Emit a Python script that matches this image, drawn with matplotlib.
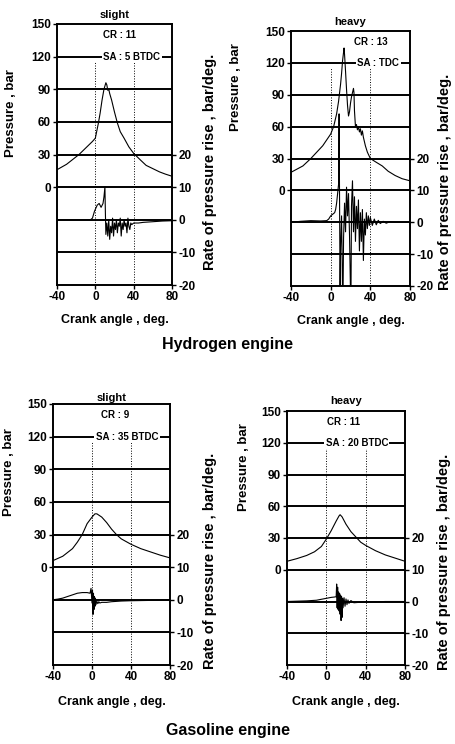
import numpy as np
import matplotlib.pyplot as plt

plt.rcParams['font.family'] = ['Liberation Sans', 'DejaVu Sans']
plt.rcParams['axes.unicode_minus'] = False

# hydrogen engine, slight knock (CR 11, SA 5 BTDC)
h_slight_px = [-40, -30, -17, -10, -3, 0, 3, 5, 7, 9, 11, 12, 13, 14, 15, 17, 20, 23, 26, 30, 35, 40, 47, 53, 60, 67, 73, 80]
h_slight_p = [16, 21, 30, 36, 42, 45, 58, 68, 80, 90, 96, 94, 89, 90, 86, 80, 69, 59, 51, 45, 37, 31, 25, 20, 17, 14, 12, 10]
h_slight_rx = [-40, -20, -5, -3, -1, 0, 2, 4, 6, 8, 9, 10, 10.5, 11, 12, 13, 14, 15, 16, 17, 18, 19, 20, 21, 22, 23, 24,
               25, 26, 27, 28, 29, 30, 31, 32, 33, 34, 35, 36, 37, 38, 40, 45, 50, 60, 70, 80]
h_slight_r = [0, 0, 0, 0.5, 2.5, 3.2, 4.5, 5, 3.8, 5, 7, 10, 2, -4.5, -1, -5, 0, -6, -2, -4, 0.5, -5, -1, -3, 0, -4, -1,
              -2, 0.5, -5, -1, -3, 0, -2, -1, -4, 0.5, -2, -3, -1, -1.5, -1, -1, -0.8, -0.6, -0.4, -0.3]

# hydrogen engine, heavy knock (CR 13, SA TDC)
h_heavy_px = [-40, -28, -20, -8, 0, 3, 6, 8, 10, 11, 12, 13, 13.5, 14, 15, 16, 17, 18, 19, 20, 21, 22, 23, 23.5, 24, 25,
              26, 27, 28, 29, 30, 31, 32, 33, 35, 37, 40, 45, 52, 58, 65, 72, 80]
h_heavy_p = [17, 23, 30, 42, 53, 60, 72, 84, 100, 110, 122, 130, 134, 128, 112, 95, 80, 70, 74, 82, 88, 92, 96, 92, 75, 60,
             62, 57, 60, 55, 58, 52, 56, 50, 42, 36, 30, 27, 23, 18, 14, 11, 9]
h_heavy_rx = [-40, -30, -20, -10, -4, -2, 0, 2, 4, 5, 6, 7, 8, 8.5, 9, 9.5, 10, 11, 12, 12.5, 13, 14, 15, 16, 17, 18, 19,
              20, 20.5, 21, 22, 23, 24, 25, 26, 27, 28, 29, 30, 31, 32, 33, 34, 35, 36, 37, 38, 39, 40, 42, 44, 46, 48,
              50, 53, 56, 60, 65, 70, 75, 80]
h_heavy_r = [0, 0.3, 0.5, 0.4, 0.5, 1, 2, 2.5, 3, 4, 6, 9, 12, 34, 5, -22, -8, 2, -22, -22, -5, 6, -3, 11, 2, 9, -4,
             -22, -22, 5, 13, -3, 8, -6, 5, -2, 7, -9, 3, -6, 4, -12, 1, -4, 3, -2, 2, -1, 1.5, -1, 1, -0.8, 0.6,
             -0.4, 0.3, -0.3, 0.2, 0, 0, 0, 0]

# gasoline engine, slight knock (CR 9, SA 35 BTDC)
g_slight_px = [-40, -30, -20, -15, -10, -5, 0, 3, 5, 10, 15, 20, 25, 30, 40, 50, 60, 70, 80]
g_slight_p = [6, 10, 17, 23, 30, 40, 46, 49, 49, 46, 41, 35, 30, 26, 21, 17, 14, 11, 8.5]
g_slight_rx = [-40, -35, -30, -25, -20, -15, -10, -5, -2, -1, 0, 0.5, 1, 1.5, 2, 2.5, 3, 3.5, 4, 5, 6, 7, 8, 10, 15,
               20, 30, 40, 60, 80]
g_slight_r = [0, 0.2, 0.5, 1.0, 1.5, 2.0, 2.2, 2.2, 2.0, 3.5, -1, 3, -4.5, 2, -3, 1, -2, 0.5, -1.5, -0.5, -1.2, -0.6,
              -1.0, -0.8, -0.8, -0.6, -0.4, -0.3, -0.2, 0]

# gasoline engine, heavy knock (CR 11, SA 20 BTDC)
g_heavy_px = [-40, -30, -20, -12, -5, 0, 5, 10, 13, 14, 15, 16, 20, 25, 30, 35, 40, 50, 60, 70, 80]
g_heavy_p = [8, 10.5, 13.5, 17, 22, 29, 37, 46, 51, 52, 51, 50, 43, 36, 31, 26, 23, 18, 14, 11, 8]
g_heavy_rx = [-40, -30, -20, -10, -5, 0, 5, 8, 10, 10.5, 11, 11.5, 12, 12.5, 13, 13.5, 14, 14.5, 15, 15.5, 16, 16.5,
              17, 18, 19, 20, 21, 22, 23, 25, 28, 32, 40, 50, 60, 80]
g_heavy_r = [0, 0.1, 0.2, 0.4, 0.7, 1.0, 1.3, 1.4, 1.5, 5.5, -2, 4.5, -2.5, 3, -3, 2.5, -4, 2, -6, 1.5, -5, 1, -2,
             1.2, -1.5, 0.8, -1, 0.5, -0.6, 0.3, -0.4, -0.3, -0.2, -0.1, 0, 0]

p_ticks = [0, 30, 60, 90, 120, 150]
r_ticks = [-20, -10, 0, 10, 20]
x_ticks = [-40, 0, 40, 80]

fig = plt.figure(figsize=(4.55, 7.44), dpi=100)
W, H = 455.0, 744.0


def draw_panel(box, title, cr, sa, px, p, rx, r, cr_x, sa_x, title_pad, xpad, left_lab, right_lab):
    left, top, right, bottom = box
    ax = fig.add_axes([left / W, 1 - bottom / H, (right - left) / W, (bottom - top) / H])
    ax2 = ax.twinx()
    ax.set_xlim(-40, 80)
    ax.set_ylim(-90, 150)
    ax2.set_ylim(-20, 60)

    for y in p_ticks[:-1]:
        ax.axhline(y, color='black', lw=1.4, zorder=1)
    for y in [-10, 0]:
        ax2.axhline(y, color='black', lw=1.4, zorder=1)
    for x in [0, 40]:
        ax.axvline(x, ymax=0.86, color='black', lw=0.7, ls=':', zorder=1)

    ax.plot(px, p, color='black', lw=0.8)
    ax2.plot(rx, r, color='black', lw=0.8)

    ax.text(cr_x, 140, 'CR : ' + cr, ha='center', va='center', fontsize=7, fontweight='bold',
            bbox=dict(fc='white', ec='none', pad=1), zorder=4)
    ax.text(sa_x, 120, 'SA : ' + sa, ha='center', va='center', fontsize=7, fontweight='bold',
            bbox=dict(fc='white', ec='none', pad=1), zorder=4)

    ax.set_xticks(x_ticks)
    ax.set_yticks(p_ticks)
    ax2.set_yticks(r_ticks)
    for a in (ax, ax2):
        a.tick_params(labelsize=8.5, length=3, width=1, pad=1.5)
        for lab in a.get_xticklabels() + a.get_yticklabels():
            lab.set_fontweight('bold')
        for s in a.spines.values():
            s.set_linewidth(1.2)

    ax.set_title(title, fontsize=8, fontweight='bold', pad=title_pad)
    ax.set_xlabel('Crank angle , deg.', fontsize=9, fontweight='bold', labelpad=xpad)
    ax.set_ylabel('Pressure , bar', fontsize=9.5, fontweight='bold')
    ax.yaxis.set_label_coords(*left_lab)
    ax2.set_ylabel('Rate of pressure rise , bar/deg.', fontsize=10.5, fontweight='bold')
    ax2.yaxis.set_label_coords(*right_lab)
    return ax


draw_panel((57, 24, 172, 285), 'slight', '11', '5 BTDC', h_slight_px, h_slight_p, h_slight_rx, h_slight_r,
           25, 38, 4, 8, (-0.35, 0.66), (1.27, 0.47))
draw_panel((291, 31, 410, 286), 'heavy', '13', 'TDC', h_heavy_px, h_heavy_p, h_heavy_rx, h_heavy_r,
           40, 48, 4, 8, (-0.41, 0.78), (1.235, 0.41))
draw_panel((53, 404, 170, 665), 'slight', '9', '35 BTDC', g_slight_px, g_slight_p, g_slight_rx, g_slight_r,
           24, 36, 2, 9, (-0.325, 0.74), (1.28, 0.40))
draw_panel((287, 411, 405, 665), 'heavy', '11', '20 BTDC', g_heavy_px, g_heavy_p, g_heavy_rx, g_heavy_r,
           17, 31, 5, 9, (-0.31, 0.78), (1.27, 0.405))

fig.text(228 / W, 1 - 345 / H, 'Hydrogen engine', ha='center', va='center', fontsize=11.5, fontweight='bold')
fig.text(228 / W, 1 - 730 / H, 'Gasoline engine', ha='center', va='center', fontsize=11.5, fontweight='bold')

fig.savefig('out.png', dpi=100)
